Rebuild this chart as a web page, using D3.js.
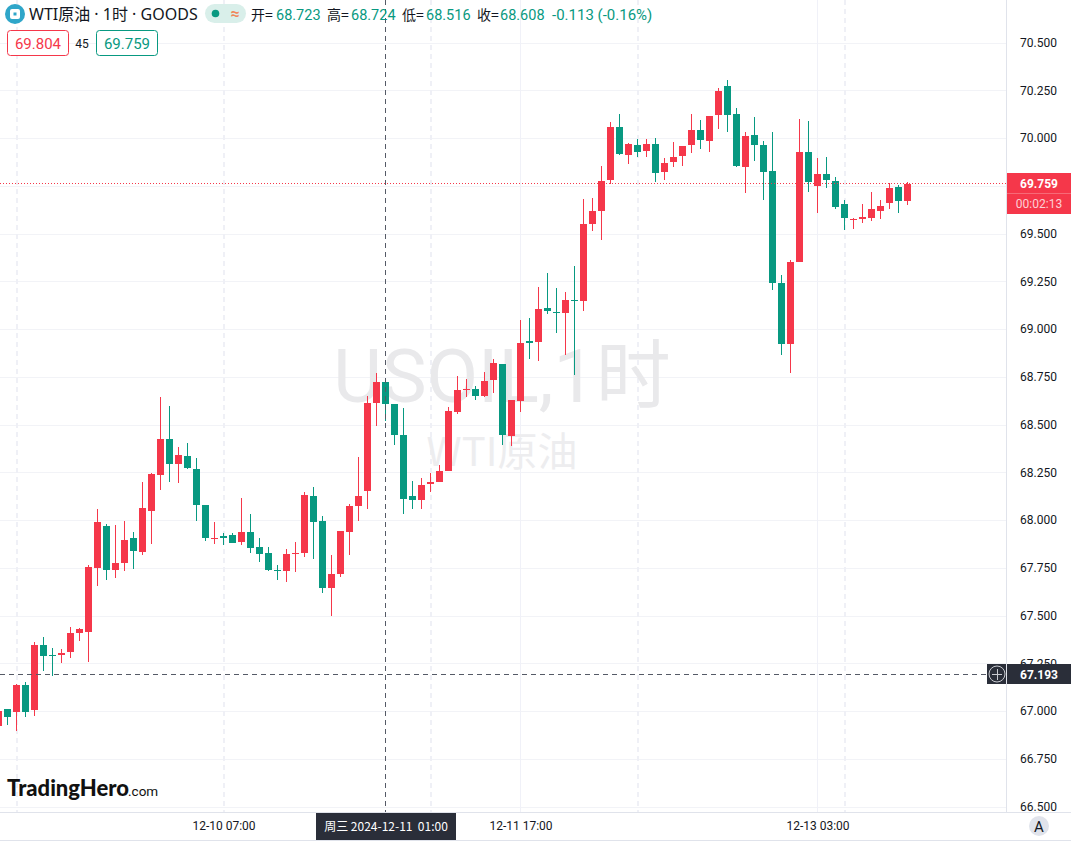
<!DOCTYPE html>
<html><head><meta charset="utf-8">
<script src="https://cdn.jsdelivr.net/npm/d3@7"></script>
<style>
html,body{margin:0;padding:0;background:#fff;overflow:hidden}
svg{display:block}
text{font-family:Roboto,"Noto Sans CJK SC",sans-serif}
.cjk{font-family:"Noto Sans CJK SC","Noto Sans",sans-serif}
.mix{font-family:"Noto Sans","Noto Sans CJK SC",sans-serif}
</style></head><body>
<svg id="c" width="1071" height="843"></svg>
<script>
const opens=[66.921,67.010,66.995,67.136,67.005,67.346,67.293,67.293,67.309,67.408,
67.414,67.749,67.969,67.738,67.775,67.906,67.833,68.047,68.236,68.424,
68.293,68.335,68.267,68.079,67.901,67.916,67.921,67.885,67.937,67.859,
67.828,67.738,67.733,67.822,67.828,68.126,67.995,67.644,67.717,67.937,
68.073,68.152,68.612,68.723,68.607,68.445,68.126,68.105,68.189,68.199,
68.256,68.566,68.681,68.686,68.649,68.733,68.817,68.440,68.623,68.937,
68.932,69.110,69.089,69.084,69.152,69.147,69.550,69.618,69.780,70.058,
69.911,69.963,69.932,69.969,69.822,69.874,69.906,69.963,70.042,69.985,
70.120,70.272,70.126,69.848,70.016,69.963,69.827,69.240,68.922,69.351,
69.927,69.749,69.811,69.775,69.654,69.571,69.576,69.581,69.618,69.660,
69.743,69.670];
const highs=[67.000,67.010,67.141,67.152,67.361,67.387,67.330,67.325,67.440,67.435,
67.764,68.058,67.979,67.974,67.995,67.937,68.199,68.246,68.644,68.597,
68.382,68.403,68.325,68.079,67.990,67.932,67.932,68.115,68.032,67.906,
67.859,67.764,67.848,67.885,68.147,68.173,68.021,67.817,67.942,68.084,
68.330,68.649,68.769,68.724,68.607,68.586,68.204,68.220,68.246,68.288,
68.592,68.754,68.738,68.702,68.775,68.843,68.817,68.628,69.047,69.058,
69.220,69.293,69.215,69.194,69.330,69.681,69.686,69.853,70.084,70.126,
69.974,69.995,69.995,70.000,69.895,69.979,69.958,70.126,70.094,70.115,
70.262,70.304,70.157,70.031,70.110,69.985,70.031,69.283,69.361,70.100,
70.089,69.895,69.901,69.796,69.676,69.581,69.654,69.717,69.676,69.764,
69.754,69.770];
const lows=[66.921,66.927,66.895,66.969,66.974,67.209,67.183,67.251,67.277,67.367,
67.257,67.654,67.686,67.696,67.733,67.743,67.817,67.874,68.157,68.199,
68.194,68.267,67.995,67.890,67.874,67.869,67.880,67.869,67.828,67.780,
67.733,67.686,67.675,67.728,67.806,67.796,67.618,67.497,67.701,67.817,
67.995,68.058,68.492,68.516,68.393,68.032,68.058,68.058,68.147,68.199,
68.256,68.555,68.644,68.628,68.644,68.665,68.393,68.387,68.566,68.843,
68.832,69.079,68.979,68.864,68.759,69.094,69.513,69.466,69.759,69.911,
69.864,69.901,69.901,69.770,69.780,69.848,69.853,69.921,69.942,69.927,
70.047,70.031,69.848,69.712,69.880,69.676,69.204,68.864,68.769,69.351,
69.717,69.607,69.738,69.628,69.518,69.523,69.555,69.565,69.576,69.628,
69.607,69.650];
const closes=[67.000,66.969,67.136,66.995,67.346,67.288,67.288,67.304,67.408,67.429,
67.754,67.990,67.738,67.775,67.895,67.838,68.063,68.241,68.424,68.293,
68.340,68.272,68.079,67.906,67.906,67.906,67.880,67.937,67.853,67.822,
67.738,67.733,67.822,67.828,68.131,67.990,67.644,67.717,67.942,68.073,
68.126,68.612,68.722,68.608,68.445,68.110,68.105,68.183,68.199,68.256,
68.571,68.681,68.686,68.649,68.728,68.822,68.445,68.628,68.927,68.927,
69.105,69.094,69.084,69.152,69.147,69.550,69.618,69.775,70.058,69.916,
69.969,69.927,69.969,69.817,69.869,69.901,69.958,70.042,69.990,70.115,
70.246,70.120,69.853,70.010,69.963,69.822,69.240,68.922,69.351,69.927,
69.770,69.811,69.780,69.639,69.581,69.576,69.586,69.628,69.644,69.738,
69.670,69.759];
const priceTicks=[70.5,70.25,70,69.75,69.5,69.25,69,68.75,68.5,68.25,68,67.75,67.5,67.25,67,66.75,66.5];
const labelledPositions=[25,58,91];
const timeLabels=["12-10 07:00","12-11 17:00","12-13 03:00"];
const dashedPositions=[2,25,48,71,94];
const solidPositions=[58,91];
const crossPosition=43;
const crossPrice=67.193;
const lastPrice=69.759;
const crossTimeLabel="周三 2024-12-11  01:00";
const countdown="00:02:13";
const legendTitle="WTI原油 · 1时 · GOODS";
const legendOHLC=[["开=","68.723"],["高=","68.724"],["低=","68.516"],["收=","68.608"]];
const legendChange="-0.113 (-0.16%)";
const sellQuote="69.804", spreadText="45", buyQuote="69.759";

const RED="#f5374a",GREEN="#089981",GRID="#f2f3f7",DARK="#2a2e39",BORDER="#e0e3eb";
const svg=d3.select("#c");
const x=d3.scaleLinear().domain([0,101]).range([-1.5,907.5]);
const y=d3.scaleLinear().domain([67,70.5]).range([711,42.5]);
const py=v=>Math.round(y(v));
const plotR=1006,plotB=812;

// grid
const g=svg.append("g");
g.selectAll(".h").data(priceTicks).join("line").attr("x1",0).attr("x2",plotR)
 .attr("y1",d=>py(d)+.5).attr("y2",d=>py(d)+.5).attr("stroke",GRID).attr("stroke-width",1);
g.selectAll(".vs").data(solidPositions).join("line").attr("x1",d=>Math.floor(x(d))+.5).attr("x2",d=>Math.floor(x(d))+.5)
 .attr("y1",0).attr("y2",plotB).attr("stroke","#f0f1f8");
g.selectAll(".vd").data(dashedPositions).join("line").attr("x1",d=>Math.floor(x(d))+1).attr("x2",d=>Math.floor(x(d))+1)
 .attr("y1",0).attr("y2",plotB).attr("stroke","#eff0f6").attr("stroke-width",2).attr("stroke-dasharray","5 4");

// watermark
svg.append("text").attr("x",502).attr("y",402).attr("text-anchor","middle").style("font-family","Roboto,'Noto Sans CJK SC'")
 .attr("font-size",75).attr("fill","#e9e9eb").text("USOIL,1时");
svg.append("text").attr("class","cjk").attr("x",502).attr("y",466).attr("text-anchor","middle")
 .attr("font-size",40).attr("fill","#ededef").text("WTI原油");

// candles
const candles=opens.map((o,i)=>({i,o,h:highs[i],l:lows[i],c:closes[i]}));
const col=d=>d.c>=d.o?RED:GREEN;
svg.append("g").selectAll("rect").data(candles).join("rect")
 .attr("x",d=>Math.floor(x(d.i))).attr("width",1)
 .attr("y",d=>py(d.h)).attr("height",d=>Math.max(1,py(d.l)-py(d.h))).attr("fill",col);
svg.append("g").selectAll("rect").data(candles).join("rect")
 .attr("x",d=>Math.floor(x(d.i))-3).attr("width",7)
 .attr("y",d=>py(Math.max(d.o,d.c))).attr("height",d=>Math.max(1,py(Math.min(d.o,d.c))-py(Math.max(d.o,d.c)))).attr("fill",col);

// last price line
svg.append("line").attr("x1",0).attr("x2",plotR).attr("y1",py(lastPrice)-.5).attr("y2",py(lastPrice)-.5)
 .attr("stroke",RED).attr("stroke-dasharray","1 2");

// crosshair
const chx=Math.floor(x(crossPosition))+.5;
svg.append("line").attr("x1",chx).attr("x2",chx).attr("y1",0).attr("y2",plotB).attr("stroke","#555a66").attr("stroke-dasharray","5 4");
svg.append("line").attr("x1",0).attr("x2",987).attr("y1",py(crossPrice)+.5).attr("y2",py(crossPrice)+.5).attr("stroke","#555a66").attr("stroke-dasharray","5 4");

// axes frame
svg.append("rect").attr("x",plotR+1).attr("y",0).attr("width",64).attr("height",plotB).attr("fill","#fff");
svg.append("rect").attr("x",0).attr("y",plotB+1).attr("width",1071).attr("height",30).attr("fill","#fff");
svg.append("line").attr("x1",plotR+.5).attr("x2",plotR+.5).attr("y1",0).attr("y2",plotB).attr("stroke",BORDER);
svg.append("line").attr("x1",0).attr("x2",1071).attr("y1",plotB+.5).attr("y2",plotB+.5).attr("stroke",BORDER);
svg.append("line").attr("x1",0).attr("x2",1071).attr("y1",840.5).attr("y2",840.5).attr("stroke",BORDER);

// price axis
const axY=d3.axisRight(y).tickValues(priceTicks).tickFormat(d3.format(".3f")).tickSize(0).tickPadding(0);
const ay=svg.append("g").attr("transform",`translate(1020,0)`).call(axY);
ay.select(".domain").remove();
ay.selectAll("text").attr("font-size",12).attr("fill","#131722").attr("font-family","Roboto");

// time axis
const axX=d3.axisBottom(x).tickValues(labelledPositions).tickFormat((d,i)=>timeLabels[i]).tickSize(0).tickPadding(0);
const ax=svg.append("g").attr("transform",`translate(0,821)`).call(axX);
ax.select(".domain").remove();
ax.selectAll("text").attr("font-size",12).attr("fill","#131722").attr("font-family","Roboto");

// last price tag
svg.append("rect").attr("x",1007).attr("y",173).attr("width",64).attr("height",41).attr("fill",RED);
svg.append("line").attr("x1",1007).attr("x2",1071).attr("y1",193.5).attr("y2",193.5).attr("stroke","#f76a77");
svg.append("text").attr("x",1039).attr("y",188).attr("text-anchor","middle").attr("font-size",12).attr("font-weight",700).attr("fill","#fff").text(lastPrice.toFixed(3));
svg.append("text").attr("x",1039).attr("y",208).attr("text-anchor","middle").attr("font-size",12).attr("fill","#fdd0d5").text(countdown);

// crosshair price tag
svg.append("rect").attr("x",987).attr("y",664).attr("width",19).attr("height",20).attr("fill",DARK);
svg.append("circle").attr("cx",997).attr("cy",674).attr("r",8).attr("fill","none").attr("stroke","#c8cad0");
svg.append("path").attr("d","M992 674.5H1002M997.5 669V680").attr("stroke","#c8cad0").attr("fill","none");
svg.append("rect").attr("x",1007).attr("y",664).attr("width",64).attr("height",20).attr("fill",DARK);
svg.append("text").attr("x",1039).attr("y",679).attr("text-anchor","middle").attr("font-size",12).attr("font-weight",700).attr("fill","#fff").text(crossPrice.toFixed(3));

// crosshair time tag
svg.append("rect").attr("x",316).attr("y",813).attr("width",140).attr("height",27).attr("fill",DARK);
svg.append("text").attr("class","cjk").attr("x",386).attr("y",831).attr("text-anchor","middle").attr("font-size",12).attr("fill","#fff").style("white-space","pre").text(crossTimeLabel);

// A button
svg.append("circle").attr("cx",1039).attr("cy",826).attr("r",10).attr("fill",BORDER);
svg.append("text").attr("x",1039).attr("y",831.5).attr("text-anchor","middle").attr("font-size",15).attr("fill","#131722").text("A");

// legend
svg.append("circle").attr("cx",15).attr("cy",14).attr("r",10).attr("fill","#2fa6c9");
svg.append("rect").attr("x",10).attr("y",9).attr("width",10).attr("height",10).attr("rx",2).attr("fill","#fff");
svg.append("rect").attr("x",13.5).attr("y",12.5).attr("width",3).attr("height",3).attr("fill","#2fa6c9");
svg.append("text").attr("class","mix").attr("x",29).attr("y",20).attr("font-size",16).attr("fill","#131722").text(legendTitle);
svg.append("rect").attr("x",205).attr("y",4).attr("width",41).attr("height",19).attr("rx",9.5).attr("fill","#d9efea");
svg.append("circle").attr("cx",215.5).attr("cy",13.5).attr("r",3.8).attr("fill",GREEN);
svg.append("text").attr("x",235).attr("y",19).attr("text-anchor","middle").attr("font-size",16).attr("font-weight",700).attr("fill","#f0865a").text("≈");
const labelX=[251,327,402,477], valueX=[276,351,426,500];
legendOHLC.forEach((p,i)=>{
  svg.append("text").attr("class","cjk").attr("x",labelX[i]).attr("y",20).attr("font-size",14).attr("fill","#131722").text(p[0]);
  svg.append("text").attr("x",valueX[i]).attr("y",20).attr("font-size",14.5).attr("fill",GREEN).text(p[1]);
});
svg.append("text").attr("x",552).attr("y",20).attr("font-size",15).attr("fill",GREEN).text(legendChange);

// quote boxes
svg.append("rect").attr("x",7.5).attr("y",30.5).attr("width",61).attr("height",25).attr("rx",3).attr("fill","#fff").attr("stroke",RED);
svg.append("text").attr("x",38).attr("y",49).attr("text-anchor","middle").attr("font-size",15).attr("fill",RED).text(sellQuote);
svg.append("text").attr("x",82).attr("y",48).attr("text-anchor","middle").attr("font-size",12).attr("fill","#131722").text(spreadText);
svg.append("rect").attr("x",96.5).attr("y",30.5).attr("width",61).attr("height",25).attr("rx",3).attr("fill","#fff").attr("stroke",GREEN);
svg.append("text").attr("x",127).attr("y",49).attr("text-anchor","middle").attr("font-size",15).attr("fill",GREEN).text(buyQuote);

// logo
svg.append("text").attr("x",7).attr("y",796).attr("fill","#111").attr("font-size",22).attr("font-weight",900).style("font-family","Lato").text("TradingHero");
svg.append("text").attr("x",128).attr("y",796).attr("fill","#111").attr("font-size",13.5).text(".com");
</script>
</body></html>
